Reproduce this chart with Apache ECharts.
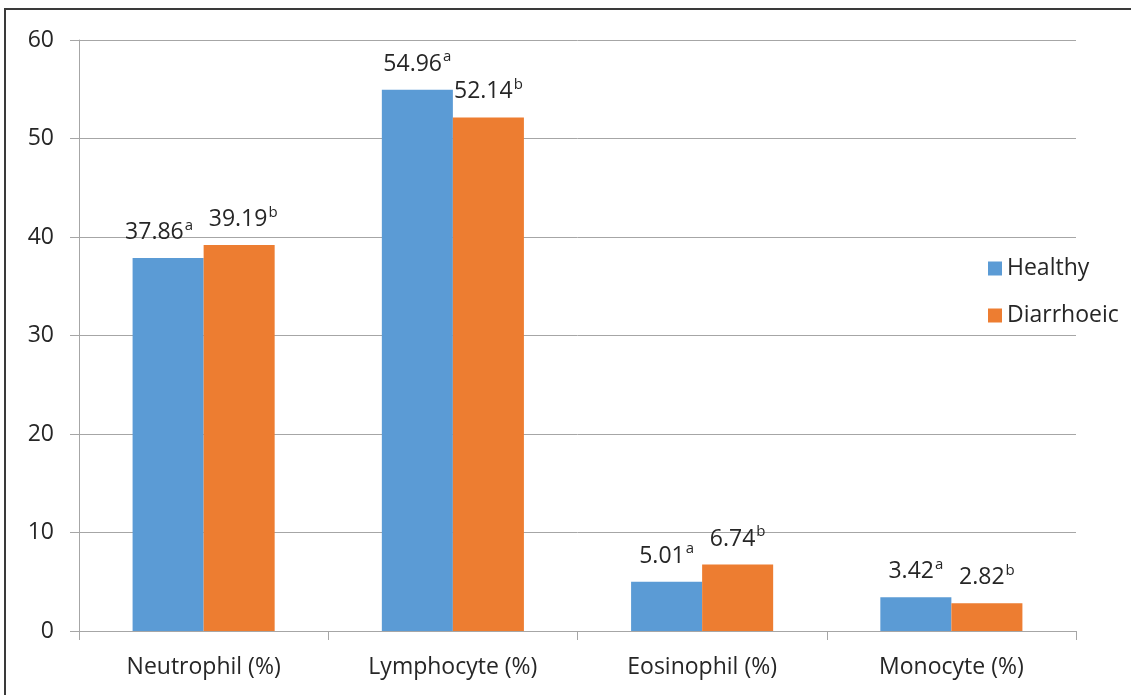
<!DOCTYPE html>
<html>
<head>
<meta charset="utf-8">
<script src="https://cdn.jsdelivr.net/npm/echarts@6/dist/echarts.min.js"></script>
<style>
  html, body { margin: 0; padding: 0; background: #fff; }
  #chart { width: 1131px; height: 695px; }
</style>
</head>
<body>
<div id="chart"></div>
<script>
// Differential leukocyte counts (%) in healthy vs diarrhoeic animals
const categories = ['Neutrophil (%)', 'Lymphocyte (%)', 'Eosinophil (%)', 'Monocyte (%)'];
const healthy = [37.86, 54.96, 5.01, 3.42];
const diarrhoeic = [39.19, 52.14, 6.74, 2.82];
const healthySup = ['a', 'a', 'a', 'a'];
const diarrhoeicSup = ['b', 'b', 'b', 'b'];
const yTicks = { min: 0, max: 60, interval: 10 };

const FONT = '"Open Sans", "Noto Sans", sans-serif';
const TEXT = '#262626';

function valueLabel(sups) {
  return {
    show: true,
    position: 'top',
    distance: 14,
    formatter: p => '{v|' + p.value.toFixed(2) + '}{s|' + sups[p.dataIndex] + '}',
    rich: {
      v: { fontSize: 23, fontFamily: FONT, color: TEXT, lineHeight: 26, verticalAlign: 'bottom' },
      s: { fontSize: 15, fontFamily: FONT, color: TEXT, lineHeight: 26, verticalAlign: 'top', padding: [0, 0, 11, 1] }
    }
  };
}

// The two Neutrophil labels sit close together, so spread them apart a little
function spreadFirstPair(dx) {
  return params => (params.dataIndex === 0 ? { dx: dx } : {});
}

const chart = echarts.init(document.getElementById('chart'), null, { renderer: 'canvas' });
chart.setOption({
  backgroundColor: '#ffffff',
  animation: false,
  graphic: [{
    type: 'rect',
    shape: { x: 5, y: 9, width: 1140, height: 700 },
    style: { fill: 'none', stroke: '#3a3a3a', lineWidth: 2 },
    silent: true
  }],
  grid: { left: 79, top: 40, right: 55, bottom: 64, containLabel: false },
  legend: {
    orient: 'vertical',
    left: 983,
    top: 252,
    itemWidth: 14,
    itemHeight: 14,
    itemGap: 24,
    icon: 'rect',
    textStyle: { fontSize: 23, fontFamily: FONT, color: TEXT },
    data: ['Healthy', 'Diarrhoeic']
  },
  xAxis: {
    type: 'category',
    data: categories,
    axisLine: { lineStyle: { color: '#a6a6a6', width: 1 } },
    axisTick: { show: true, length: 9, lineStyle: { color: '#a6a6a6' } },
    axisLabel: { fontSize: 23, fontFamily: FONT, color: TEXT, margin: 25 }
  },
  yAxis: {
    type: 'value',
    min: yTicks.min,
    max: yTicks.max,
    interval: yTicks.interval,
    axisLine: { show: true, lineStyle: { color: '#a6a6a6', width: 1 } },
    axisTick: { show: true, length: 9, lineStyle: { color: '#a6a6a6' } },
    splitLine: { show: true, lineStyle: { color: '#a6a6a6', width: 1 } },
    axisLabel: { fontSize: 23, fontFamily: FONT, color: TEXT, margin: 25 }
  },
  series: [
    {
      name: 'Healthy',
      type: 'bar',
      data: healthy,
      barGap: '0%',
      barCategoryGap: '43%',
      itemStyle: { color: '#5b9bd5' },
      label: valueLabel(healthySup),
      labelLayout: spreadFirstPair(-9)
    },
    {
      name: 'Diarrhoeic',
      type: 'bar',
      data: diarrhoeic,
      itemStyle: { color: '#ed7d31' },
      label: valueLabel(diarrhoeicSup),
      labelLayout: spreadFirstPair(4)
    }
  ]
});
</script>
</body>
</html>
